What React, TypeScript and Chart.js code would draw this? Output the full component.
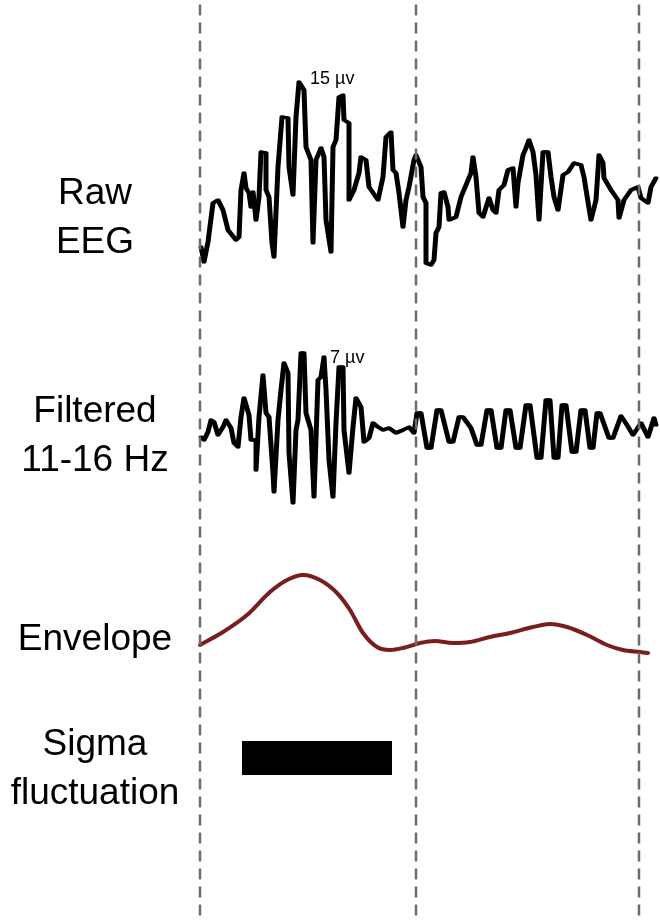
import React, { useEffect, useRef } from "react";
import { Chart, registerables } from "chart.js";

Chart.register(...registerables);

// Time in samples (0 = first marker), values in arbitrary µV-like units (up = positive)
const markerTimes = [0, 216, 439];

const rawTime = [
  0, 3, 7, 12, 17, 22, 27, 35, 38, 40, 43, 45, 48, 50, 52, 55, 58, 60, 65, 65,
  68, 71, 73, 77, 81, 87, 88, 92, 95, 98, 103, 105, 110, 112, 115, 120, 123, 125, 130, 132,
  135, 138, 142, 143, 148, 148, 153, 158, 160, 165, 168, 177, 182, 185, 190, 192, 195, 198, 202, 205,
  208, 213, 215, 220, 222, 225, 225, 230, 233, 235, 238, 240, 243, 247, 248, 255, 260, 265, 270, 272,
  275, 278, 282, 288, 292, 295, 298, 303, 307, 312, 315, 317, 322, 325, 328, 332, 335, 338, 342, 347,
  350, 353, 357, 362, 367, 373, 380, 383, 387, 390, 395, 398, 402, 403, 410, 417, 418, 423, 430, 437,
  440, 447, 450, 455,
];
const rawValue = [
  -47, -62, -42, -3, 0, -10, -30, -40, -37, 10, 27, 12, 7, -7, 8, -20, 3, 48, 47, 10,
  3, -43, -57, 33, 83, 82, 33, 5, 83, 118, 110, 53, 40, -43, 40, 52, 43, -20, -52, 53,
  60, 103, 105, 80, 77, 0, 10, 27, 43, 40, 13, 0, 23, 63, 68, 30, 27, 7, -27, 0,
  13, 40, 45, 33, 3, -3, -63, -65, -60, -33, -27, 7, 8, -7, -20, -17, 3, 15, 27, 43,
  23, -13, -17, 2, -10, -13, 10, 15, 30, 32, -7, 17, 45, 52, 60, 48, 25, -20, 48, 48,
  23, 3, -10, 25, 28, 37, 35, 23, -2, -20, 0, 45, 37, 22, 10, 0, -18, 0, 10, 13,
  2, -3, 13, 22,
];

const filtTime = [
  0, 3, 7, 10, 13, 17, 22, 25, 30, 33, 37, 40, 43, 48, 50, 55, 55, 58, 62, 65,
  68, 72, 73, 77, 80, 83, 87, 88, 92, 95, 97, 100, 103, 105, 110, 113, 117, 120, 123, 125,
  128, 132, 135, 138, 142, 143, 148, 152, 155, 160, 163, 168, 172, 177, 182, 188, 195, 202, 208, 213,
  216, 220, 226, 230, 236, 240, 248, 252, 258, 262, 270, 276, 280, 286, 290, 296, 300, 305, 309, 315,
  319, 325, 329, 336, 340, 345, 349, 353, 357, 361, 365, 371, 375, 380, 384, 389, 392, 396, 399, 408,
  412, 420, 426, 432, 440, 447, 453, 455,
];
const filtValue = [
  -7, -10, -2, 10, 8, -5, 3, 10, 2, -13, -17, 13, 32, 15, -10, -10, -40, 13, 55, 17,
  13, -43, -62, 10, 40, 67, 57, -23, -73, 0, 10, 77, 77, 17, 0, -67, 50, 53, 73, 40,
  -30, -67, 7, 63, 63, 0, -43, 3, 32, 23, -12, -8, 7, 3, 0, 2, -3, 0, 3, -3,
  17, 17, -18, -18, 20, 20, -12, -12, 13, 13, 2, -15, -15, 20, 20, -18, -18, 20, 20, -18,
  -18, 25, 25, -28, -28, 30, 30, -28, -28, 25, 25, -22, -22, 20, 20, -18, -18, 17, 17, -8,
  -8, 14, 5, -5, 7, -7, 12, 5,
];

const envTime = [
  0, 23, 47, 70, 87, 103, 120, 137, 150, 163, 177, 190, 203, 220, 235, 253, 270, 290, 310, 333,
  350, 367, 387, 407, 423, 440, 448,
];
const envValue = [
  15, 28, 45, 68, 80, 85, 80, 67, 50, 27, 13, 10, 12, 17, 19, 17, 18, 23, 27, 33,
  36, 33, 25, 15, 10, 8, 7,
];

const sigmaStart = 42;
const sigmaEnd = 192;

const rowLabels = [["Raw", "EEG"], ["Filtered", "11-16 Hz"], ["Envelope"], ["Sigma", "fluctuation"]];
const scaleLabels = ["15 µv", "7 µv"];

const zip = (t: number[], v: number[]) => t.map((x, i) => ({ x, y: v[i] }));

const penPlugin = {
  id: "pen",
  beforeDatasetDraw(chart: any, args: any) {
    const ds = chart.data.datasets[args.index];
    if (ds.penShift) {
      chart.ctx.save();
      chart.ctx.translate(ds.penShift, 0);
    }
  },
  afterDatasetDraw(chart: any, args: any) {
    const ds = chart.data.datasets[args.index];
    if (ds.penShift) chart.ctx.restore();
  },
};

const FONT = "'Liberation Sans', Arial, Helvetica, sans-serif";

const labelPlugin = {
  id: "labels",
  afterDraw(chart: any) {
    const ctx = chart.ctx as CanvasRenderingContext2D;
    ctx.save();
    ctx.fillStyle = "#000";
    ctx.textBaseline = "alphabetic";
    ctx.textAlign = "center";
    ctx.font = `37px ${FONT}`;
    const baselines = [204, 422, 650, 755];
    rowLabels.forEach((lines, i) => {
      lines.forEach((s, j) => ctx.fillText(s, 95, baselines[i] + j * 49));
    });
    ctx.textAlign = "left";
    ctx.font = `18px ${FONT}`;
    ctx.fillText(scaleLabels[0], 310, 84);
    ctx.fillText(scaleLabels[1], 330, 363);
    ctx.restore();
  },
};

function traceSets(t: number[], v: number[], axis: string) {
  const base = {
    type: "line" as const,
    data: zip(t, v),
    yAxisID: axis,
    borderColor: "#000",
    borderWidth: 3,
    pointRadius: 0,
    tension: 0,
    fill: false,
    borderJoinStyle: "round" as const,
    borderCapStyle: "round" as const,
  };
  return [0, 1, 2].map((s) => ({ ...base, penShift: s }));
}

export default function App() {
  const ref = useRef<HTMLCanvasElement | null>(null);
  useEffect(() => {
    if (!ref.current) return;
    const markerSets = markerTimes.map((m) => ({
      type: "line" as const,
      data: [
        { x: m, y: 0 },
        { x: m, y: 1 },
      ],
      yAxisID: "yMark",
      borderColor: "#6b6b6b",
      borderWidth: 2.5,
      borderDash: [11, 7],
      pointRadius: 0,
      fill: false,
    }));
    const chart = new Chart(ref.current, {
      type: "line",
      data: {
        datasets: [
          ...markerSets,
          ...traceSets(rawTime, rawValue, "yRaw"),
          ...traceSets(filtTime, filtValue, "yFilt"),
          {
            type: "line",
            data: zip(envTime, envValue),
            yAxisID: "yEnv",
            borderColor: "#7a1d1d",
            borderWidth: 4,
            pointRadius: 0,
            tension: 0.4,
            cubicInterpolationMode: "monotone",
            fill: false,
            borderCapStyle: "round",
          },
          {
            type: "line",
            data: [
              { x: sigmaStart, y: 0 },
              { x: sigmaEnd, y: 0 },
            ],
            yAxisID: "ySig",
            borderColor: "#000",
            borderWidth: 34,
            pointRadius: 0,
            fill: false,
            borderCapStyle: "butt",
          },
        ] as any,
      },
      options: {
        animation: false,
        responsive: false,
        devicePixelRatio: 1,
        layout: { padding: 0 },
        plugins: { legend: { display: false }, tooltip: { enabled: false } },
        events: [],
        scales: {
          x: { type: "linear", min: -200, max: 460, display: false },
          yRaw: { type: "linear", min: -720, max: 200, display: false },
          yFilt: { type: "linear", min: -490, max: 430, display: false },
          yEnv: { type: "linear", min: -260, max: 660, display: false },
          ySig: { type: "linear", min: -162, max: 758, display: false },
          yMark: { type: "linear", min: -0.005, max: 1.0, display: false },
        },
      },
      plugins: [penPlugin, labelPlugin],
    });
    return () => chart.destroy();
  }, []);
  return (
    <div style={{ position: "absolute", left: 0, top: 0, width: 660, height: 920, background: "#fff" }}>
      <canvas ref={ref} width={660} height={920} style={{ display: "block" }} />
    </div>
  );
}
